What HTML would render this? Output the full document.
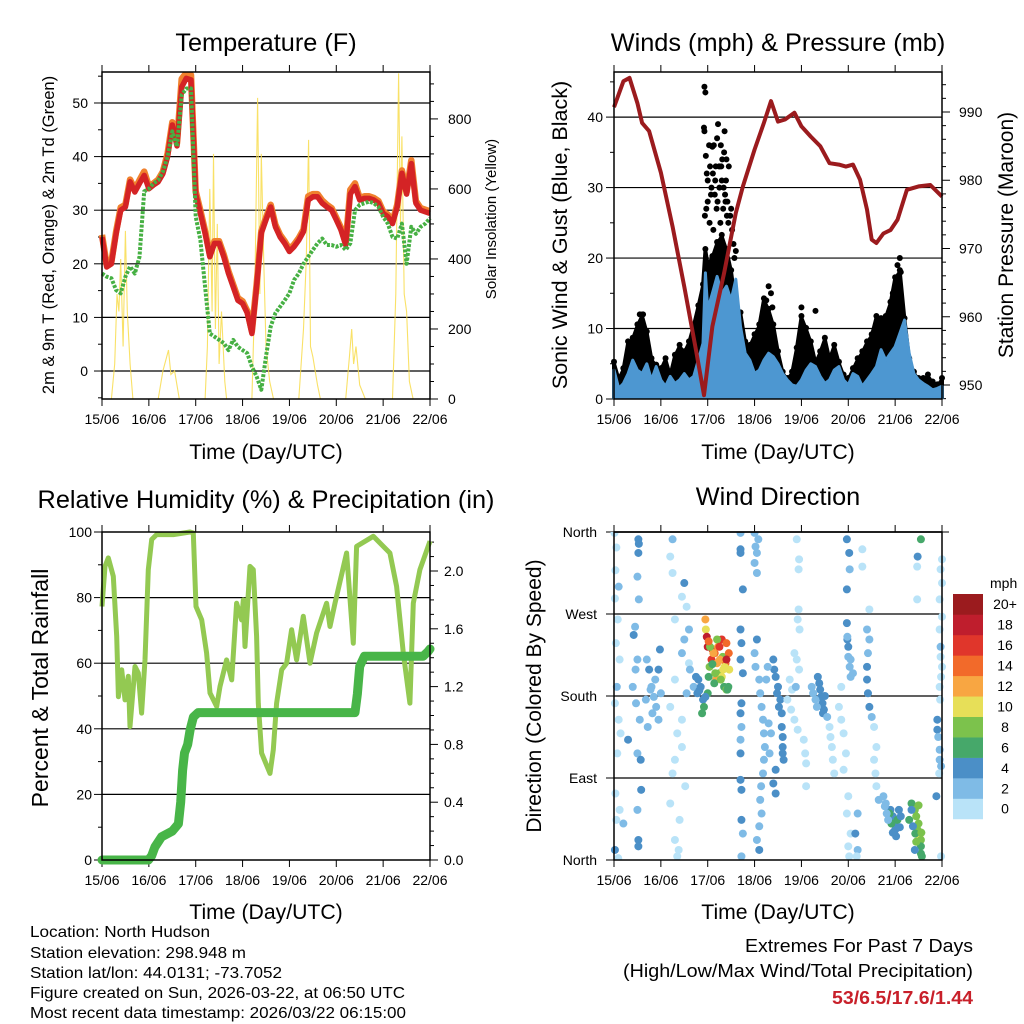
<!DOCTYPE html>
<html><head><meta charset="utf-8"><style>
html,body{margin:0;padding:0;background:#fff}
svg{display:block;font-family:"Liberation Sans",sans-serif}
</style></head><body>
<svg id="chart" width="1024" height="1024" viewBox="0 0 1024 1024" xmlns="http://www.w3.org/2000/svg">
<g font-size="25.3" text-anchor="middle" fill="#000">
<text x="266" y="51">Temperature (F)</text>
<text x="778" y="51">Winds (mph) &amp; Pressure (mb)</text>
<text x="266" y="508">Relative Humidity (%) &amp; Precipitation (in)</text>
<text x="778" y="505">Wind Direction</text>
</g>
<g text-anchor="middle" fill="#000">
<text x="266" y="459" font-size="21.2">Time (Day/UTC)</text>
<text x="778" y="459" font-size="21.2">Time (Day/UTC)</text>
<text x="266" y="919" font-size="21.2">Time (Day/UTC)</text>
<text x="778" y="919" font-size="21.2">Time (Day/UTC)</text>
<text font-size="16.5" transform="translate(54,235) rotate(-90)">2m &amp; 9m T (Red, Orange) &amp; 2m Td (Green)</text>
<text font-size="15" transform="translate(496,219) rotate(-90)">Solar Insolation (Yellow)</text>
<text font-size="21.5" transform="translate(567,235) rotate(-90)">Sonic Wind &amp; Gust (Blue, Black)</text>
<text font-size="21" transform="translate(1013,235) rotate(-90)">Station Pressure (Maroon)</text>
<text font-size="23" transform="translate(48,688) rotate(-90)">Percent &amp; Total Rainfall</text>
<text font-size="21" transform="translate(541,696) rotate(-90)">Direction (Colored By Speed)</text>
</g>
<g font-size="16" fill="#000">
<text x="30" y="937" textLength="180" lengthAdjust="spacingAndGlyphs">Location: North Hudson</text>
<text x="30" y="958" textLength="216" lengthAdjust="spacingAndGlyphs">Station elevation: 298.948 m</text>
<text x="30" y="978" textLength="252" lengthAdjust="spacingAndGlyphs">Station lat/lon: 44.0131; -73.7052</text>
<text x="30" y="998" textLength="375" lengthAdjust="spacingAndGlyphs">Figure created on Sun, 2026-03-22, at 06:50 UTC</text>
<text x="30" y="1018" textLength="376" lengthAdjust="spacingAndGlyphs">Most recent data timestamp: 2026/03/22 06:15:00</text>
</g>
<g font-size="18.5" text-anchor="end" fill="#000">
<text x="973" y="952" textLength="228" lengthAdjust="spacingAndGlyphs">Extremes For Past 7 Days</text>
<text x="973" y="977" textLength="350" lengthAdjust="spacingAndGlyphs">(High/Low/Max Wind/Total Precipitation)</text>
<text x="973" y="1004" fill="#c8202a" font-weight="bold" textLength="141" lengthAdjust="spacingAndGlyphs">53/6.5/17.6/1.44</text>
</g>
</svg>
<script>
const dayLabels=['15/06','16/06','17/06','18/06','19/06','20/06','21/06','22/06'];
// Temperature panel (days, F)
const tDays=[0,.1,.2,.3,.4,.5,.6,.7,.8,.9,1,1.1,1.2,1.3,1.4,1.5,1.6,1.7,1.8,1.9,2,2.1,2.2,2.3,2.4,2.5,2.6,2.7,2.8,2.9,3,3.1,3.2,3.3,3.4,3.5,3.6,3.7,3.8,3.9,4,4.1,4.2,4.3,4.4,4.5,4.6,4.7,4.8,4.9,5,5.1,5.2,5.3,5.4,5.5,5.6,5.7,5.8,5.9,6,6.1,6.2,6.3,6.4,6.5,6.6,6.7,6.8,6.9,7];
const temp2m=[25,19.4,20,25.6,30,30.6,35.3,33.4,35,36.5,34,34.7,35.3,36.8,40,45.9,42,53,54.6,54.3,33,29.4,25.7,21.3,23.8,23.8,21.3,18.2,15.7,13.2,12.6,10.8,7,15.7,25.7,28.2,30.6,26.9,25,23.8,22.3,23.2,24.4,26,31.9,32.5,32.5,31.3,30.6,30,28.2,26.3,23.5,33,34.4,31.9,32.2,32.2,31.9,31.3,29.4,28.8,27.5,30.6,36.9,33,38.7,31.3,30,29.7,29.4];
const temp9m=[25.4,19.8,20.4,26,30.5,31,35.7,33.9,35.6,37.2,34.5,35,35.7,37.2,40.6,46.4,42.5,54.5,55.6,55.2,33.5,29.9,26.1,21.7,24.2,24.2,21.7,18.6,16.1,13.6,13,11.2,7.4,16.1,26.1,28.6,31,27.3,25.4,24.2,22.7,23.6,24.8,26.4,32.6,33,33,31.8,31,30.4,28.6,26.7,23.9,33.8,35,32.3,32.6,32.6,32.3,31.7,29.8,29.2,27.9,31,37.4,33.4,39.3,31.7,30.4,30.1,29.8];
const dewpt=[18.2,17.6,17.3,15.1,14.5,17.6,19.5,18.2,21.3,33.5,34,35,35.6,37.2,40,44.7,41.9,51.5,52.7,52.7,28.8,24.4,15.7,7,6.4,5.8,5.2,3.9,5.8,4.5,3.9,3.3,0.8,-1,-3.5,2.7,8.3,10.8,12,13.2,14.5,17,18.2,20,21.3,22.6,23.8,24.7,23.5,23.5,23.2,23.5,22.6,23.8,30,31,31.3,31.6,31.3,30.6,28.8,27.5,25,24.7,27.5,20,26.9,25.6,26.9,27.5,28.5];
const solarDays=[0,.2,.27,.32,.36,.4,.45,.5,.54,.6,.66,1.2,1.3,1.42,1.47,1.55,1.65,2.2,2.25,2.3,2.35,2.38,2.42,2.46,2.5,2.55,2.62,2.66,3.2,3.26,3.32,3.37,3.4,3.45,3.5,3.58,3.66,4.2,4.3,4.36,4.41,4.45,4.5,4.6,4.66,5.2,5.28,5.33,5.37,5.42,5.5,5.62,6.2,6.27,6.33,6.37,6.4,6.45,6.5,6.56,6.64,7];
const solarVals=[0,0,100,300,250,400,150,480,250,100,0,0,80,140,70,80,0,0,150,600,250,700,200,500,100,250,50,0,0,300,860,300,700,400,150,50,0,0,200,400,740,150,120,40,0,0,120,200,100,150,40,0,0,300,930,500,750,300,250,50,0,0];
// Winds panel
const windDays=[0,.1,.2,.3,.4,.5,.6,.7,.8,.9,1,1.1,1.2,1.3,1.4,1.5,1.6,1.7,1.8,1.9,1.95,2,2.1,2.2,2.3,2.4,2.5,2.6,2.7,2.8,2.9,3,3.1,3.2,3.3,3.4,3.5,3.6,3.7,3.8,3.9,4,4.1,4.2,4.3,4.4,4.5,4.6,4.7,4.8,4.9,5,5.1,5.2,5.3,5.4,5.5,5.6,5.7,5.8,5.9,6,6.1,6.2,6.3,6.4,6.5,6.6,6.7,6.8,6.9,7];
const windSpd=[4.1,1.5,2.2,3.6,5.5,4.1,3.6,5,2.7,4.6,2.7,1.8,3.2,2.2,2.7,3.6,2.7,3.2,5.5,7.9,17.9,12.7,15,17.4,15,16,14,17,10.3,6.5,5.5,3.6,4.1,5.5,6.5,6,5,3.6,2.7,2,1.8,2.7,4.1,5,4.6,3.2,2.2,2.7,4.1,4.6,2.7,2,3.6,3.2,1.8,2.7,3.6,4.6,7,5.5,6.5,7.4,9.3,11.2,6.5,3.6,2.7,2.2,1.8,1.3,1.5,1.8];
const gustSpd=[5,2.7,4.1,7.9,8.4,10.3,11.7,9.3,5.5,4.6,4.1,5.5,3.2,6,7.4,6.5,7.9,10.3,13,16,21,19,20,22,23,21,18,13,12,7.9,7.4,8.9,10.3,14,12.5,10.3,6.5,3.6,2.7,3.6,7,11.5,9.8,7.9,5,6.5,8.4,5.5,7.4,5,3.2,2.7,4.1,5.5,6.5,7.9,8.9,11.5,11.2,11.5,13.5,17,18,11.2,5.5,3.6,2.7,2.7,3.2,2.2,1.8,2.7];
const gustBurstDays=[1.93,1.95,1.92,1.93,1.96,2.17,2.2,2.22,2.36,2.35,2.3,2.1,2.05,2,2.25,2.4,2.45,2.28,2.15,2.42,2,2.12,1.94,2.33,2.27,2.39,3.3,3.38,4.3,2.6,2.55,2.08,2.19,2.31,2.44,2.03,2.26,1.98,2.07,2.13,2.24,2.34,2.38,2.48,2.52,1.97,2.16,2.29,2.41,2.11,2.21,2.37,2.04,2.5,2.57,6.05,6.1,6.08,6.12,5.95,3.35,3.25,4.0,0.55,0.62];
const gustBurstVals=[44.3,43.5,38.5,38,34.5,33,37,39,38,35,31,35.8,33,31,30,34,33,36,29,28,28,24,26,27,25,31,16,13,12.5,21,22,30,27,34,25,36,33,32,29,36,33,30,28,26,24,27,31,33,26,32,28,29,25,27,20,19,20,17,18,15,15,14,13,12,12];
const presDays=[0,.2,.33,.5,.6,.75,1,1.25,1.5,1.75,1.92,2.1,2.35,2.6,2.75,3,3.2,3.35,3.5,3.65,3.85,4,4.2,4.4,4.6,4.8,4.95,5.1,5.25,5.4,5.5,5.6,5.75,5.9,6.05,6.25,6.5,6.75,7];
const presVals=[990.7,994.5,995,991.3,988.4,987.2,981.1,973.2,964.4,955.1,948.5,958.6,966.4,975.2,979.1,984.5,988.4,991.6,988.6,988.9,989.9,987.9,986.4,985,982.5,982.3,982,982.3,980.1,975.7,971.3,970.8,972.2,972.7,974.2,978.6,979.1,979.3,977.6];
// RH panel
const rhDays=[0,.064,.135,.242,.313,.349,.42,.491,.562,.597,.704,.775,.846,.917,.989,1.06,1.166,1.522,1.878,1.949,2.006,2.127,2.233,2.304,2.447,2.518,2.66,2.767,2.873,2.98,3.016,3.051,3.158,3.229,3.3,3.336,3.407,3.585,3.656,3.727,3.834,3.94,4.047,4.154,4.296,4.438,4.58,4.794,4.865,4.972,5.22,5.363,5.434,5.79,6.003,6.145,6.287,6.43,6.572,6.643,6.785,7];
const rhVals=[77.3,89.5,92.1,86.5,68.2,49.8,58,48.8,56,40.7,59,57,44.8,61,88.5,97.7,99.2,99.2,100,99.7,77.3,73.2,63.1,50.9,46.8,52.9,61,54.9,78.3,73.2,79.3,65.1,89.5,88.5,68.2,47.8,32.6,26.4,33.6,47.8,58,60,70.2,61,74.3,60,69.2,78.3,71.2,78.3,93.6,66.1,95.6,98.7,95.6,93.6,83.4,63.1,47.8,78.3,88.5,97.2];
const rainDays=[0,.99,1.06,1.13,1.27,1.5,1.63,1.68,1.72,1.76,1.83,1.88,1.95,2.05,5.4,5.45,5.5,5.6,6.85,6.95,7];
const rainVals=[0,0,.03,.09,.16,.2,.25,.4,.62,.74,.8,.9,.99,1.02,1.02,1.15,1.34,1.41,1.41,1.44,1.46];
// Wind direction panel: [day, direction deg (0=N,90=E,180=S,270=W,360=N), speed mph]
const dirObs=[
[0.01,359,0],[0.05,343,0],[0.03,318,0],[0.1,300,2],[0.02,287,0],[0.08,264,0],[0.04,238,0],[0.12,220,0],[0.06,190,2],[0.02,172,0],[0.1,154,0],[0.14,139,0],[0.07,117,0],[0.03,73,0],[0.12,55,0],[0.05,44,0],[0.02,11,4],[0.09,2,0],
[0.52,352,4],[0.53,347,4],[0.52,337,4],[0.5,311,2],[0.53,286,2],[0.45,256,2],[0.42,247,4],[0.5,220,2],[0.46,209,2],[0.4,190,2],[0.47,172,2],[0.55,154,2],[0.3,132,4],[0.5,117,2],[0.57,110,4],[0.58,77,4],[0.5,55,2],[0.2,40,2],[0.52,22,4],[0.52,15,4],
[0.7,220,2],[0.75,209,4],[0.8,190,2],[0.85,179,2],[0.9,168,2],[0.95,154,2],[0.72,146,2],[0.95,209,4],[0.98,231,4],[0.88,198,2],[0.78,187,2],[0.68,176,2],[0.82,161,2],[1.0,183,2],
[1.25,352,2],[1.2,333,0],[1.25,315,0],[1.5,304,4],[1.45,289,0],[1.55,278,0],[1.3,264,0],[1.6,253,2],[1.5,242,2],[1.45,227,2],[1.6,216,0],[1.3,198,0],[1.55,183,2],[1.2,168,0],[1.45,154,0],[1.35,139,0],[1.45,124,0],[1.3,110,0],[1.25,95,0],[1.52,81,0],[1.2,62,0],[1.4,44,0],[1.3,22,0],[1.38,11,0],[1.35,4,0],[1.62,209,2],[1.7,190,2],
[1.8,198,4],[1.85,190,4],[1.78,183,4],[1.9,176,4],[1.75,201,4],[1.92,168,6],[1.88,161,6],[2.0,183,6],[1.82,186,4],[1.95,179,4],
[1.95,264,12],[1.96,253,10],[1.98,245,18],[2.0,234,18],[2.1,231,16],[2.15,227,14],[2.08,220,16],[2.2,216,12],[2.04,212,8],[2.25,205,8],[2.3,201,10],[2.18,198,12],[2.35,190,6],[2.4,187,8],[2.3,242,16],[2.4,238,14],[2.22,234,12],[2.12,227,12],[2.32,223,8],[2.38,216,14],[2.46,209,10],[2.02,201,6],[2.14,194,6],[2.42,187,6],[2.2,242,8],[2.05,234,8],[2.45,227,14],[2.26,220,12],[2.36,212,10],[2.16,205,8],[2.28,198,8],[2.44,190,6],[2.25,234,16],[2.4,220,18],[2.33,209,10],[2.02,240,14],[2.1,215,6],
[2.7,359,2],[2.7,341,4],[2.7,337,4],[2.75,297,4],[2.7,253,4],[2.72,238,4],[2.7,220,4],[2.75,205,4],[2.72,172,4],[2.7,161,4],[2.72,146,2],[2.7,132,2],[2.7,117,4],[2.7,88,4],[2.72,77,4],[2.72,44,4],[2.75,29,2],[2.72,4,2],
[3.0,359,2],[3.08,352,2],[3.02,344,2],[3.05,337,2],[3.0,326,2],[3.05,315,2],[3.05,242,4],[3.0,227,2],[3.02,212,2],[3.1,198,2],[3.12,183,2],[3.15,168,2],[3.18,154,2],[3.2,139,2],[3.22,124,2],[3.2,110,2],[3.18,95,2],[3.14,81,2],[3.12,66,2],[3.15,51,2],[3.1,37,2],[3.05,22,2],[3.1,11,4],
[3.4,220,4],[3.42,209,4],[3.45,201,4],[3.5,190,4],[3.55,176,4],[3.58,161,4],[3.58,146,4],[3.6,135,4],[3.6,124,4],[3.6,117,4],[3.62,110,4],[3.3,150,2],[3.35,139,2],[3.32,117,2],[3.45,99,4],[3.4,84,4],[3.45,73,4],[3.28,212,2],[3.25,198,2],[3.48,183,4],[3.52,168,4],
[3.9,352,0],[3.95,330,0],[3.94,319,0],[3.94,275,0],[3.92,264,0],[3.96,253,0],[3.85,227,0],[3.9,220,0],[3.95,209,0],[3.75,198,0],[3.8,187,0],[3.7,176,0],[3.78,165,0],[3.85,154,0],[3.92,143,0],[4.05,132,0],[4.08,117,0],[4.1,106,0],[4.1,81,0],[3.88,190,2],
[4.35,201,4],[4.38,194,4],[4.4,187,4],[4.42,179,4],[4.45,172,4],[4.48,165,4],[4.46,161,4],[4.25,183,2],[4.3,176,2],[4.33,168,2],[4.55,157,2],[4.6,146,0],[4.62,135,0],[4.65,124,0],[4.67,110,0],[4.7,95,0],[4.22,190,2],[4.5,180,4],
[4.97,352,4],[5.02,337,4],[5.03,319,2],[4.97,297,4],[4.97,260,4],[4.98,242,4],[5.0,234,4],[5.0,223,2],[5.03,212,2],[5.05,201,2],[4.85,190,0],[4.8,168,0],[4.85,154,0],[4.9,139,0],[4.95,117,0],[4.9,99,0],[5.0,70,0],[4.97,51,0],[5.05,29,0],[5.0,15,0],[5.02,4,0],[4.98,245,2],[5.05,220,2],[5.1,205,2],
[5.3,341,0],[5.3,322,0],[5.45,275,0],[5.4,253,2],[5.45,242,2],[5.42,227,2],[5.4,212,4],[5.4,198,4],[5.42,183,4],[5.45,168,4],[5.5,157,2],[5.55,146,0],[5.6,124,0],[5.55,110,0],[5.58,95,0],[5.6,81,0],[5.65,66,2],[5.2,51,2],[5.15,29,4],[5.2,11,2],[5.18,4,0],
[5.75,70,2],[5.8,62,2],[5.9,55,4],[5.95,48,4],[5.98,40,4],[6.0,33,4],[6.02,26,4],[6.05,44,6],[5.88,51,6],[5.92,40,6],[5.78,59,2],[5.82,51,2],[5.85,44,2],[6.1,36,4],[6.12,48,4],[5.95,30,4],[6.08,55,4],
[6.55,352,6],[6.48,333,4],[6.47,322,0],[6.47,286,0],[6.35,62,6],[6.42,55,8],[6.45,48,8],[6.5,40,8],[6.48,33,8],[6.52,26,10],[6.55,22,8],[6.55,15,6],[6.55,7,6],[6.57,4,6],[6.3,44,6],[6.38,37,4],[6.43,29,6],[6.42,11,4],[6.35,55,4],[6.5,60,8],[6.45,20,8],[6.56,30,8],
[7.0,330,0],[6.97,319,0],[7.0,304,0],[6.95,286,0],[7.0,267,0],[6.95,253,0],[6.97,234,2],[6.97,223,0],[7.0,212,0],[6.98,201,0],[6.95,190,0],[6.96,176,0],[6.9,154,4],[6.9,143,4],[6.92,135,2],[6.95,121,2],[6.95,110,2],[6.98,103,2],[6.94,95,0],[6.88,70,4],[6.98,4,0]
];
const speedBins=['0','2','4','6','8','10','12','14','16','18','20+'];
const speedColors=['#b9e3f8','#7fbbe6','#4b8fc7','#46a86a','#7cc24c','#e7df58','#f8a642','#f26a2a','#e0362b','#bf1e2d','#9b1b1e'];

const NS='http://www.w3.org/2000/svg';
const svg=document.getElementById('chart');
function mk(tag,attrs,parent){const e=document.createElementNS(NS,tag);for(const k in attrs)e.setAttribute(k,attrs[k]);parent.appendChild(e);return e;}
function lin(d0,d1,r0,r1){return v=>r0+(v-d0)*(r1-r0)/(d1-d0);}
function pathFrom(xs,ys,fx,fy){return xs.map((d,i)=>(i?'L':'M')+fx(d).toFixed(1)+','+fy(ys[i]).toFixed(1)).join('');}

function axes(p){
  const g=mk('g',{},svg);
  
  
  p.grid.forEach(v=>{const y=p.yL(v);const l=mk('line',{x1:p.x0,x2:p.x1,y1:y,y2:y,stroke:'#000','stroke-width':1.2},g);
    
    });
  const fx=lin(0,7,p.x0,p.x1);
  dayLabels.forEach((lab,i)=>{const x=fx(i);
    mk('line',{x1:x,x2:x,y1:p.y1,y2:p.y1+7,stroke:'#000','stroke-width':1},g);
    mk('line',{x1:x,x2:x,y1:p.y0,y2:p.y0-7,stroke:'#000','stroke-width':1},g);
    const t=mk('text',{x:x,y:p.y1+25,'font-size':14,'text-anchor':'middle'},g);t.textContent=lab;
    
    });
  p.lTicks.forEach(v=>{const y=p.yL(v);const maj=p.lLabels.indexOf(v)>=0;
    mk('line',{x1:p.x0,x2:p.x0-(maj?8:4),y1:y,y2:y,stroke:'#000','stroke-width':1},g);
    if(maj){const t=mk('text',{x:p.x0-(p.lPad||14),y:y+5,'font-size':14,'text-anchor':'end'},g);t.textContent=(p.lFmt?p.lFmt(v):v);
      
      }});
  if(p.yR){p.rTicks.forEach(v=>{const y=p.yR(v);const maj=p.rLabels.indexOf(v)>=0;
    mk('line',{x1:p.x1,x2:p.x1+(maj?8:4),y1:y,y2:y,stroke:'#000','stroke-width':1},g);
    if(maj){const t=mk('text',{x:p.x1+(p.rPad||17),y:y+5,'font-size':14},g);t.textContent=(p.rFmt?p.rFmt(v):v);
      
      }});}
  else {mk('line',{x1:p.x1,x2:p.x1+7,y1:p.y0,y2:p.y0,stroke:'#000'},g);}
  return fx;
}
function frame(p){const r=mk('rect',{x:p.x0,y:p.y0,width:p.x1-p.x0,height:p.y1-p.y0,fill:'none',stroke:'#000','stroke-width':1.5},svg);
  
  }
function range(a,b,s){const r=[];for(let v=a;v<=b+1e-9;v+=s)r.push(Math.round(v*100)/100);return r;}

// ---- Panel 1: Temperature
const P1={name:'temperature',x0:102,x1:430,y0:72,y1:399};
P1.yL=lin(-5.22,55.78,P1.y1,P1.y0);P1.yR=lin(0,934,P1.y1,P1.y0);
P1.grid=[0,10,20,30,40,50];P1.lTicks=range(-5,55,5);P1.lLabels=[0,10,20,30,40,50];
P1.rTicks=range(0,900,50);P1.rLabels=[0,200,400,600,800];P1.rPad=18;
const fx1=axes(P1);
{const g=mk('g',{'clip-path':'url(#c1)'},svg);
 
 
 const s=mk('path',{d:pathFrom(solarDays,solarVals,fx1,P1.yR),fill:'none',stroke:'#f8dc4c','stroke-width':1.1,opacity:0.85},g);
 
 
 const o=mk('path',{d:pathFrom(tDays,temp9m,fx1,P1.yL),fill:'none',stroke:'#f0812e','stroke-width':6.5,'stroke-linejoin':'round'},g);
 
 
 const r=mk('path',{d:pathFrom(tDays,temp2m,fx1,P1.yL),fill:'none',stroke:'#d42325','stroke-width':5.5,'stroke-linejoin':'round'},g);
 
 
 const d=mk('path',{d:pathFrom(tDays,dewpt,fx1,P1.yL),fill:'none',stroke:'#46b043','stroke-width':4,'stroke-dasharray':'3 1.5','stroke-linejoin':'round'},g);
 
 }
frame(P1);

// ---- Panel 2: Winds
const P2={name:'winds',x0:614,x1:942,y0:72,y1:399};
P2.yL=lin(0,46.4,P2.y1,P2.y0);P2.yR=lin(947.95,995.86,P2.y1,P2.y0);
P2.grid=[10,20,30,40];P2.lTicks=range(0,45,5);P2.lLabels=[0,10,20,30,40];P2.lPad=11;
P2.rTicks=range(948,994,2);P2.rLabels=[950,960,970,980,990];
const fx2=axes(P2);
{const g=mk('g',{'clip-path':'url(#c2)'},svg);
 
 
 const base=' L'+fx2(7)+','+P2.y1+' L'+fx2(0)+','+P2.y1+' Z';
 const ga=mk('path',{d:pathFrom(windDays,gustSpd,fx2,P2.yL)+base,fill:'#000',stroke:'#000','stroke-width':4,'stroke-linejoin':'round'},g);
 
 
 windDays.forEach((d,i)=>{const c=mk('circle',{cx:fx2(d),cy:P2.yL(gustSpd[i])-2,r:3},g);
   
   });
 gustBurstDays.forEach((d,i)=>{const c=mk('circle',{cx:fx2(d),cy:P2.yL(gustBurstVals[i]),r:3},g);
   
   });
 const wa=mk('path',{d:pathFrom(windDays,windSpd,fx2,P2.yL)+base,fill:'#4d97d1',stroke:'#4d97d1','stroke-width':3,'stroke-linejoin':'round'},g);
 
 
 const pr=mk('path',{d:pathFrom(presDays,presVals,fx2,P2.yR),fill:'none',stroke:'#9b1b1e','stroke-width':4,'stroke-linejoin':'round'},g);
 
 }
frame(P2);

// ---- Panel 3: RH & precip
const P3={name:'humidity',x0:102,x1:430,y0:532,y1:860};
P3.yL=lin(0,100,P3.y1,P3.y0);P3.yR=lin(0,2.27,P3.y1,P3.y0);
P3.grid=[20,40,60,80];P3.lTicks=range(0,100,10);P3.lLabels=[0,20,40,60,80,100];P3.lPad=10;
P3.rTicks=range(0,2.2,0.1);P3.rLabels=[0,0.4,0.8,1.2,1.6,2];P3.rFmt=v=>v.toFixed(1);P3.rPad=14;
const fx3=axes(P3);
{const g=mk('g',{},svg);
 
 
 const rh=mk('path',{d:pathFrom(rhDays,rhVals,fx3,P3.yL),fill:'none',stroke:'#93c952','stroke-width':5,'stroke-linejoin':'round'},g);
 
 
 const rn=mk('path',{d:pathFrom(rainDays,rainVals,fx3,P3.yR),fill:'none',stroke:'#48b548','stroke-width':9,'stroke-linejoin':'round','stroke-linecap':'round'},g);
 
 }
frame(P3);

// ---- Panel 4: Wind direction
const P4={name:'wind-direction',x0:614,x1:942,y0:532,y1:860};
P4.yL=lin(0,360,P4.y1,P4.y0);
P4.grid=[90,180,270];P4.lTicks=[0,90,180,270,360];P4.lLabels=[0,90,180,270,360];P4.lPad=17;
P4.lFmt=v=>({0:'North',90:'East',180:'South',270:'West',360:'North'})[v];
const fx4=axes(P4);
{const g=mk('g',{'clip-path':'url(#c4)'},svg);
 
 
 dirObs.forEach(o=>{let k=Math.min(10,Math.floor(o[2]/2));
   const c=mk('circle',{cx:fx4(o[0]),cy:P4.yL(o[1]),r:4,fill:speedColors[k]},g);
   
   });
 mk('line',{x1:P4.x0,x2:P4.x1,y1:P4.y0,y2:P4.y0,stroke:'#000','stroke-width':1.5},svg);}
frame(P4);

const defs=mk('defs',{},svg);
[[P1,'c1'],[P2,'c2'],[P4,'c4']].forEach(([p,id])=>{const cp=mk('clipPath',{id:id},defs);mk('rect',{x:p.x0-4,y:p.y0,width:p.x1-p.x0+8,height:p.y1-p.y0},cp);});

// colorbar legend
{const g=mk('g',{},svg);
 
 
 const t=mk('text',{x:990,y:588,'font-size':14},g);t.textContent='mph';
 
 
 const top=594,h=20.45;
 speedBins.forEach((lab,i)=>{const j=10-i;const y=top+j*h;
   const r=mk('rect',{x:953,y:y,width:30,height:h+0.3,fill:speedColors[i]},g);
   
   
   const tx=mk('text',{x:1005,y:y+h/2+5,'font-size':14,'text-anchor':'middle'},g);tx.textContent=lab;
   
   });}
</script>
</body></html>
